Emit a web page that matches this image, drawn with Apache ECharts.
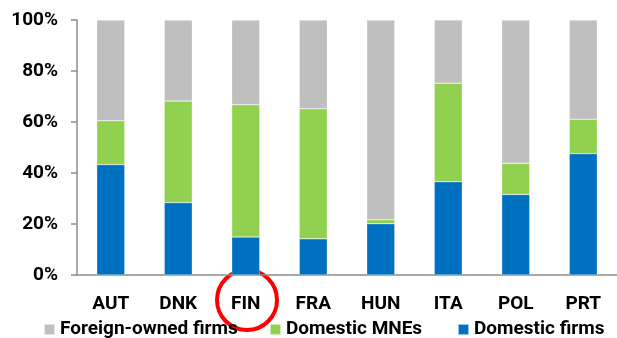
<!DOCTYPE html>
<html lang="en">
  <head>
    <meta charset="UTF-8">
    <title>Ownership shares</title>
    <script src="https://cdn.jsdelivr.net/npm/echarts@6/dist/echarts.min.js"></script>
    <style>
      html, body { margin: 0; padding: 0; background: #fff; }
    </style>
  </head>
  <body>
    <div id="main" style="width: 617px; height: 338px"></div>
    <script type="text/javascript">
      // shares in %
      var countries = ['AUT', 'DNK', 'FIN', 'FRA', 'HUN', 'ITA', 'POL', 'PRT'];
      var domesticFirms = [43.3, 28.4, 14.9, 14.2, 20.1, 36.6, 31.6, 47.6];
      var domesticMNEs = [17.2, 39.8, 51.9, 51.0, 1.6, 38.6, 12.2, 13.5];
      var foreignOwned = [39.5, 31.8, 33.2, 34.8, 78.3, 24.8, 56.2, 38.9];
      var yTicks = [0, 20, 40, 60, 80, 100];

      var font = 'Roboto';
      var chart = echarts.init(document.getElementById('main'));

      function bar(name, data, color) {
        return {
          name: name,
          type: 'bar',
          stack: 'total',
          barWidth: 28,
          data: data,
          itemStyle: { color: color, borderColor: 'rgba(255,255,255,0.6)', borderWidth: 0.5 }
        };
      }

      function legendItem(name, left) {
        return {
          data: [name],
          left: left,
          top: 315,
          zlevel: 1,
          itemWidth: 11,
          itemHeight: 11,
          itemGap: 6,
          icon: 'rect',
          textStyle: { fontFamily: font, fontWeight: 'bold', fontSize: 19, color: '#000' }
        };
      }

      chart.setOption({
        animation: false,
        grid: { left: 77, top: 20, bottom: 63, width: 546, containLabel: false },
        legend: [
          legendItem('Foreign-owned firms', 38),
          legendItem('Domestic MNEs', 264),
          legendItem('Domestic firms', 452)
        ],
        xAxis: {
          type: 'category',
          data: countries,
          axisLine: { lineStyle: { color: '#8c8c8c', width: 1.5 } },
          axisTick: { length: 6, lineStyle: { color: '#8c8c8c', width: 1.5 } },
          axisLabel: { margin: 20, fontFamily: font, fontWeight: 'bold', fontSize: 19, color: '#000' }
        },
        yAxis: {
          type: 'value',
          min: yTicks[0],
          max: yTicks[yTicks.length - 1],
          interval: 20,
          splitLine: { show: false },
          axisLine: { show: true, lineStyle: { color: '#8c8c8c', width: 1.5 } },
          axisTick: { show: true, length: 6, lineStyle: { color: '#8c8c8c', width: 1.5 } },
          axisLabel: { margin: 19, formatter: '{value}%', fontFamily: font, fontWeight: 'bold', fontSize: 19, color: '#000' }
        },
        series: [
          bar('Domestic firms', domesticFirms, '#0070C0'),
          bar('Domestic MNEs', domesticMNEs, '#92D050'),
          bar('Foreign-owned firms', foreignOwned, '#BFBFBF')
        ],
        graphic: [{
          type: 'circle',
          shape: { cx: 247, cy: 300, r: 30 },
          style: { fill: 'none', stroke: '#FF0000', lineWidth: 4 }
        }]
      });
    </script>
  </body>
</html>
